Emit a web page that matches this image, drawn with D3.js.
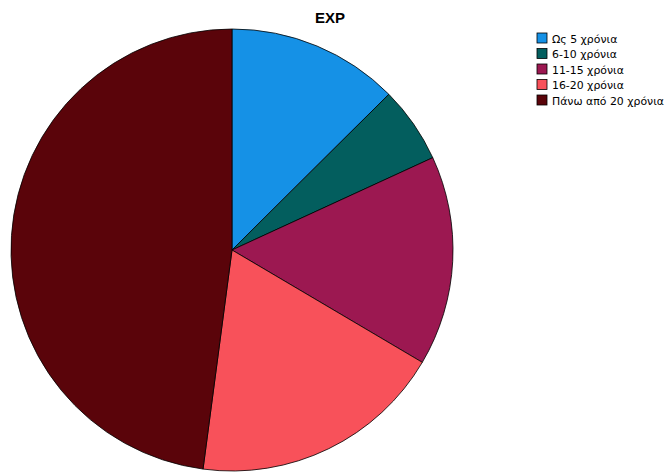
<!DOCTYPE html>
<html><head><meta charset="utf-8">
<script src="https://cdn.jsdelivr.net/npm/d3@7"></script>
<style>body{margin:0;background:#fff}svg{display:block}</style>
</head><body>
<script>
const categories = ["Ως 5 χρόνια","6-10 χρόνια","11-15 χρόνια","16-20 χρόνια","Πάνω από 20 χρόνια"];
const values = [27, 12, 33, 40, 103];
const colors = ["#1591e6","#035e5e","#9c1851","#f8515a","#5a040a"];
const title = "EXP";

const W = 671, H = 474;
const svg = d3.select("body").append("svg").attr("width", W).attr("height", H);
svg.append("text").attr("x", 330).attr("y", 23).attr("text-anchor","middle")
  .attr("font-family","Liberation Sans, Arial, sans-serif").attr("font-weight","bold")
  .attr("font-size", 15).text(title);

const cx = 232, cy = 250, r = 221;
const pie = d3.pie().sort(null).value(d => d)(values);
const arc = d3.arc().innerRadius(0).outerRadius(r);
const color = d3.scaleOrdinal().domain(categories).range(colors);
svg.append("g").attr("transform", `translate(${cx},${cy})`)
  .selectAll("path").data(pie).join("path")
  .attr("d", arc).attr("fill", (d,i) => color(categories[i]))
  .attr("stroke","#000").attr("stroke-width",0.8);

const lg = svg.append("g").attr("transform","translate(537,33)");
const rows = lg.selectAll("g").data(categories).join("g")
  .attr("transform",(d,i)=>`translate(0,${i*15.5})`);
rows.append("rect").attr("width",10).attr("height",10).attr("fill",d=>color(d))
  .attr("stroke","#000").attr("stroke-width",0.8);
rows.append("text").attr("x",15).attr("y",9.5)
  .attr("font-family","DejaVu Sans, sans-serif").attr("font-size",10.9)
  .text(d=>d);
</script>
</body></html>
